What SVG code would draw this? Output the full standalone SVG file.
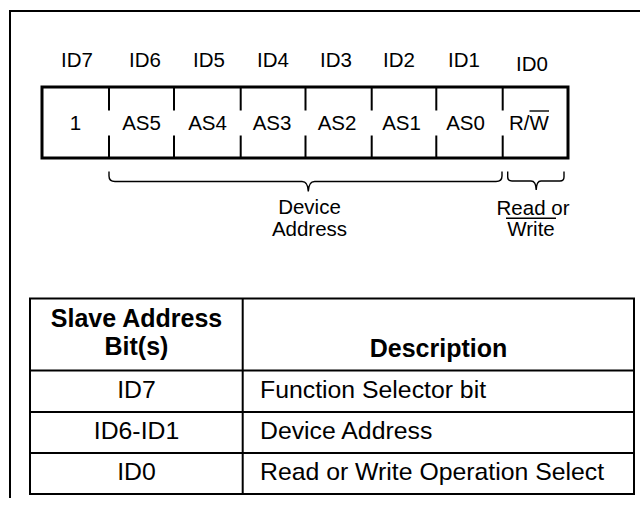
<svg xmlns="http://www.w3.org/2000/svg" width="640" height="510" viewBox="0 0 640 510">
<style>
text{font-family:"Liberation Sans",Arial,Helvetica,sans-serif;fill:#000}
.lbl{font-size:20.5px;text-anchor:middle}
.tc{font-size:24.8px;text-anchor:middle}
.tl{font-size:24.8px}
.th{font-size:25px;font-weight:bold;text-anchor:middle}
.thin{stroke:#000;stroke-width:2;fill:none}
.brace{stroke:#000;stroke-width:1.4;fill:none}
</style>
<rect width="640" height="510" fill="#fff"/>
<g id="frame">
<path class="thin" d="M641,11 H10 V498"/>
</g>
<g id="bit-labels">
<text class="lbl" x="77" y="67">ID7</text>
<text class="lbl" x="145" y="67">ID6</text>
<text class="lbl" x="209" y="67">ID5</text>
<text class="lbl" x="273" y="67">ID4</text>
<text class="lbl" x="336" y="67">ID3</text>
<text class="lbl" x="399" y="67">ID2</text>
<text class="lbl" x="464" y="67">ID1</text>
<text class="lbl" x="532" y="71">ID0</text>
</g>
<g id="register">
<rect x="42" y="87" width="526" height="71" fill="none" stroke="#000" stroke-width="3"/>
<path class="thin" d="M109,87 V110.5 M109,135.5 V158 M174,87 V110.5 M174,135.5 V158 M240.7,87 V110.5 M240.7,135.5 V158 M305.5,87 V110.5 M305.5,135.5 V158 M371.7,87 V110.5 M371.7,135.5 V158 M436.3,87 V110.5 M436.3,135.5 V158 M502.7,87 V110.5 M502.7,135.5 V158"/>
<text class="lbl" x="75.5" y="130">1</text>
<text class="lbl" x="141.5" y="130">AS5</text>
<text class="lbl" x="207.5" y="130">AS4</text>
<text class="lbl" x="272" y="130">AS3</text>
<text class="lbl" x="337" y="130">AS2</text>
<text class="lbl" x="401.5" y="130">AS1</text>
<text class="lbl" x="465.5" y="130">AS0</text>
<text class="lbl" x="529" y="130">R/W</text>
<line x1="529.5" y1="111" x2="549" y2="111" stroke="#000" stroke-width="1.4"/>
</g>
<g id="connectors">
<path class="brace" d="M109,171.5 V176 Q109,181.5 115,181.5 H302 Q308,181.5 308.3,191.5 Q308.6,181.5 314.6,181.5 H496 Q502,181.5 502,176 V171.5"/>
<path class="brace" d="M507.7,171.5 V177 Q507.7,181 512,181 H531 Q536,181 536.2,190 Q536.4,181 541,181 H560 Q564,181 564,177 V171.5"/>
</g>
<g id="device-address">
<text class="lbl" x="309.5" y="214">Device</text>
<text class="lbl" x="309.5" y="235.5">Address</text>
</g>
<g id="read-write">
<text class="lbl" x="533" y="215">Read or</text>
<text class="lbl" x="531" y="236">Write</text>
<line x1="506" y1="218.3" x2="556" y2="218.3" stroke="#000" stroke-width="1.4"/>
</g>
<g id="table">
<rect x="30" y="298.5" width="604" height="195.5" class="thin"/>
<path class="thin" d="M242.7,298.5 V494 M30,370.5 H634 M30,412 H634 M30,453 H634"/>
<text class="th" x="136.5" y="327">Slave Address</text>
<text class="th" x="136.5" y="355">Bit(s)</text>
<text class="th" x="438.5" y="357">Description</text>
<text class="tc" x="136.5" y="398">ID7</text>
<text class="tl" x="260" y="398">Function Selector bit</text>
<text class="tc" x="136.5" y="438.5">ID6-ID1</text>
<text class="tl" x="260" y="438.5">Device Address</text>
<text class="tc" x="136.5" y="479.5">ID0</text>
<text class="tl" x="260" y="479.5">Read or Write Operation Select</text>
</g>
</svg>
